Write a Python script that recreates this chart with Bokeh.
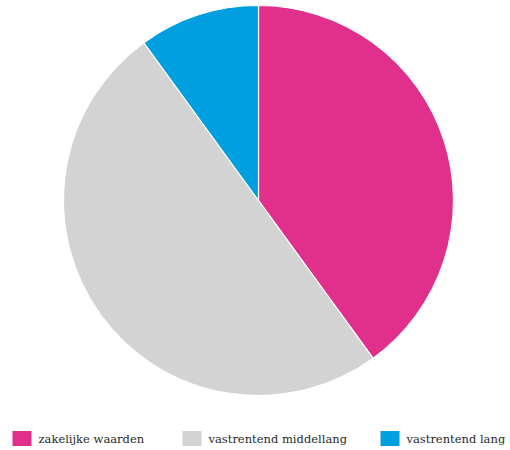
import math
from bokeh.plotting import figure
from bokeh.models import Range1d
from bokeh.core.properties import value
from bokeh.embed import file_html
from bokeh.resources import INLINE

labels = ["zakelijke waarden", "vastrentend middellang", "vastrentend lang"]
shares = [40, 50, 10]
colors = ["#E0308C", "#D3D3D3", "#009FDF"]

# layout (page pixels)
cx, cy, r = 258, 200, 195
legend_x = [12, 182, 380]
legend_y = 438

W, H = 510, 450
p = figure(width=W, height=H, output_backend="svg", toolbar_location=None,
           x_range=Range1d(0, W), y_range=Range1d(-H, 0),
           min_border=0, outline_line_color=None)
p.axis.visible = False
p.grid.visible = False
p.background_fill_color = "white"

total = sum(shares)
start = math.pi / 2
starts, ends = [], []
for s in shares:
    a = s / total * 2 * math.pi
    starts.append(start)
    ends.append(start - a)
    start -= a

p.wedge(x=[cx] * 3, y=[-cy] * 3, radius=r, start_angle=starts, end_angle=ends,
        direction="clock", fill_color=colors, line_color="white", line_width=1.2)

sq = 19
p.rect(x=[lx + sq / 2 for lx in legend_x], y=[-legend_y] * 3, width=sq, height=15,
       fill_color=colors, line_color=None)
p.text(x=[lx + sq + 7 for lx in legend_x], y=[-legend_y] * 3, text=labels,
       text_font=value("DejaVu Serif"), text_font_size="11.5px",
       text_color="#2a2a2a", text_baseline="middle", text_align="left")

open("out.html", "w").write(file_html(p, INLINE))
